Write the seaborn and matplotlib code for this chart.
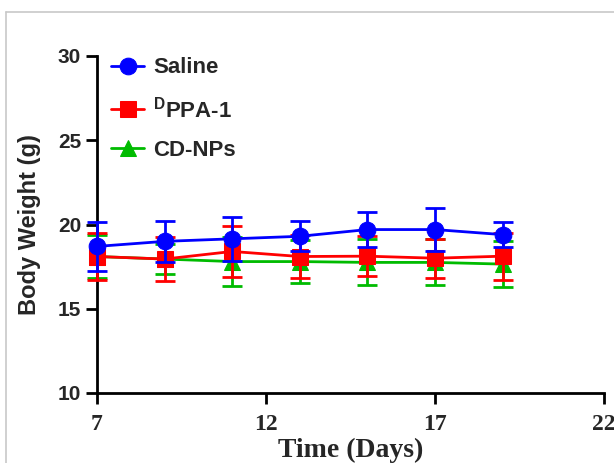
import numpy as np
import pandas as pd
import matplotlib
matplotlib.use("Agg")
import matplotlib.pyplot as plt
from matplotlib.lines import Line2D
import seaborn as sns

days = [7, 9, 11, 13, 15, 17, 19]
saline = [18.7, 19.0, 19.15, 19.3, 19.7, 19.7, 19.4]
saline_sd = [1.45, 1.2, 1.3, 0.9, 1.05, 1.3, 0.75]
dppa = [18.1, 17.95, 18.4, 18.1, 18.12, 18.0, 18.12]
dppa_sd = [1.4, 1.3, 1.5, 1.3, 1.2, 1.15, 1.4]
cdnps = [18.1, 17.95, 17.8, 17.8, 17.75, 17.75, 17.65]
cdnps_sd = [1.25, 0.9, 1.45, 1.3, 1.37, 1.37, 1.35]

labels = ["Saline", r"$^{\mathbf{D}}$PPA-1", "CD-NPs"]
colors = ["#0000ff", "#ff0000", "#00bb00"]
markers = ["o", "s", "^"]

sns.set_theme(style="ticks")
plt.rcParams["font.family"] = ["Liberation Sans", "DejaVu Sans"]
plt.rcParams["mathtext.fontset"] = "custom"
plt.rcParams["mathtext.bf"] = "Liberation Sans:bold"
plt.rcParams["mathtext.rm"] = "Liberation Sans:bold"

fig = plt.figure(figsize=(6.14, 4.63), dpi=100)
ax = fig.add_axes([97/614, 1-393/463, 507/614, 337/463])

series = [(cdnps, cdnps_sd, 2), (dppa, dppa_sd, 1), (saline, saline_sd, 0)]
base = {2: 2, 1: 4, 0: 6}
for vals, sd, i in series:
    eb = ax.errorbar(days, vals, yerr=sd, fmt="none", ecolor=colors[i], elinewidth=2,
                     capsize=7, capthick=2, clip_on=False)
    for art in list(eb.lines[1]) + list(eb.lines[2]):
        art.set_zorder(base[i])
    n_before = len(ax.lines)
    df = pd.DataFrame({"Day": days, "Weight": vals})
    sns.lineplot(data=df, x="Day", y="Weight", ax=ax, color=colors[i], marker=markers[i],
                 markersize=12 if i != 2 else 11, markeredgecolor=colors[i], linewidth=2,
                 label=labels[i])
    for ln in ax.lines[n_before:]:
        ln.set_zorder(base[i] + 1)
        ln.set_clip_on(False)

ax.set_xlim(7, 22)
ax.set_ylim(10, 30)
ax.set_xticks([7, 12, 17, 22])
ax.set_yticks([10, 15, 20, 25, 30])
for s in ["top", "right"]:
    ax.spines[s].set_visible(False)
for s in ["left", "bottom"]:
    ax.spines[s].set_linewidth(2)
    ax.spines[s].set_color("black")
ax.tick_params(axis="both", width=2, length=8, color="black", direction="out")
ax.tick_params(axis="x", pad=7)
for lab in ax.get_yticklabels():
    lab.set_fontfamily(["Liberation Sans", "DejaVu Sans"])
    lab.set_fontweight("bold")
    lab.set_fontsize(15)
for lab in ax.get_xticklabels():
    lab.set_fontfamily(["Liberation Serif", "DejaVu Serif"])
    lab.set_fontweight("bold")
    lab.set_fontsize(17)
ax.set_ylabel("Body Weight (g)", fontsize=17, fontweight="bold",
              family=["Liberation Sans", "DejaVu Sans"], labelpad=12)
ax.set_xlabel("Time (Days)", fontsize=20, fontweight="bold",
              family=["Liberation Serif", "DejaVu Serif"], labelpad=2)

h, l = ax.get_legend_handles_labels()
order = [2, 1, 0]
leg = ax.legend([h[k] for k in order], [l[k] for k in order], loc="upper left",
                bbox_to_anchor=(-0.012, 1.055), frameon=False, handlelength=1.5,
                labelspacing=0.8, handletextpad=0.4,
                prop={"family": ["Liberation Sans", "DejaVu Sans"], "weight": "bold", "size": 16})

fig.add_artist(Line2D([6/614, 6/614], [0, 1-12/463], color="#c8c8c8", linewidth=1.2))
fig.add_artist(Line2D([6/614, 1], [1-12/463, 1-12/463], color="#c8c8c8", linewidth=1.2))

fig.savefig("out.png", dpi=100)
